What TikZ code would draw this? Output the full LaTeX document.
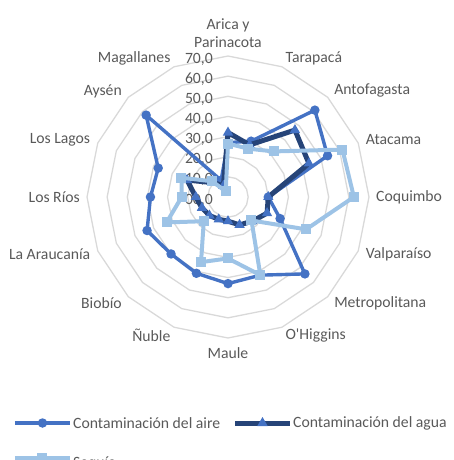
\documentclass[tikz,border=0pt]{standalone}
\usepackage{fontspec}
\setmainfont{Carlito}
\usepackage{xcolor}
\usetikzlibrary{shapes.geometric,positioning,calc}

\definecolor{aireblue}{HTML}{4472C4}
\definecolor{aguanavy}{HTML}{264478}
\definecolor{sequiablue}{HTML}{9DC3E6}
\definecolor{gridgray}{HTML}{D9D9D9}
\definecolor{txtgray}{HTML}{595959}

\begin{document}
\begin{tikzpicture}[
    x=1pt, y=1pt,
    font=\fontsize{15.7}{18}\selectfont, text=txtgray,
    ring/.style={draw=gridgray, line width=1.3pt},
    aireline/.style={draw=aireblue, line width=3.4pt, line join=round},
    agualine/.style={draw=aguanavy, line width=5pt, line join=round},
    sequialine/.style={draw=sequiablue, line width=4pt, line join=round},
    airemark/.style={circle, fill=aireblue, inner sep=0pt, minimum size=9.5pt},
    aguamark/.style={regular polygon, regular polygon sides=3, fill=aireblue, inner sep=0pt, minimum size=12pt},
    sequiamark/.style={rectangle, fill=sequiablue, inner sep=0pt, minimum size=10pt}
]
    \useasboundingbox (-228,-263) rectangle (225,197);
    \def\u{2.014}

    % Rings
    \foreach \k in {1,...,7}
        \draw[ring] (90:\k*10*\u) \foreach \i in {1,...,15}{ -- ({90-22.5*\i}:\k*10*\u) } -- cycle;

    % Scale labels
    \foreach \k in {0,...,7}
        \node[anchor=east, inner sep=0pt] (tick\k) at (-15,\k*10*\u-3) {\k0,0};

    % Region labels
    \node[anchor=south, align=center, inner sep=0pt] (r0) at (90:149) {Arica y\\Parinacota};
    \node[anchor=west, inner sep=0pt] (r1) at (67.5:150) {Tarapacá};
    \node[anchor=west, inner sep=0pt] (r2) at (45:150) {Antofagasta};
    \node[anchor=west, inner sep=0pt] (r3) at (22.5:149) {Atacama};
    \node[anchor=west, inner sep=0pt] (r4) at (0:148) {Coquimbo};
    \node[anchor=west, inner sep=0pt] (r5) at (-22.5:149) {Valparaíso};
    \node[anchor=west, inner sep=0pt] (r6) at (-45:150) {Metropolitana};
    \node[anchor=west, inner sep=0pt] (r7) at (-67.5:150) {O\textquotesingle Higgins};
    \node[anchor=north, inner sep=0pt] (r8) at (-90:150) {Maule};
    \node[anchor=east, inner sep=0pt] (r9) at (-112.5:150) {Ñuble};
    \node[anchor=east, inner sep=0pt] (r10) at (-135:150) {Biobío};
    \node[anchor=east, inner sep=0pt] (r11) at (-157.5:149) {La Araucanía};
    \node[anchor=east, inner sep=0pt] (r12) at (180:148) {Los Ríos};
    \node[anchor=east, inner sep=0pt] (r13) at (157.5:149) {Los Lagos};
    \node[anchor=east, inner sep=0pt] (r14) at (135:150) {Aysén};
    \node[anchor=east, inner sep=0pt] (r15) at (112.5:150) {Magallanes};

    % Data points
    \foreach \v [count=\i from 0] in {27,30,61,53.5,20,28,54,42,43,41,40,43.5,38.5,37.5,57.5,9}
        \coordinate (a\i) at ({90-22.5*\i}:\v*\u);
    \foreach \v [count=\i from 0] in {32,28,47,43.5,20,21,17,15,12,12,13,14,16,22,10,6}
        \coordinate (w\i) at ({90-22.5*\i}:\v*\u);
    \foreach \v [count=\i from 0] in {26.5,26,32,61.5,62.5,42,16.5,42,30.5,35,17,33,23,25,11,3}
        \coordinate (s\i) at ({90-22.5*\i}:\v*\u);

    % Contaminacion del aire
    \draw[aireline] (a0) \foreach \i in {1,...,15}{ -- (a\i) } -- cycle;
    \foreach \i in {0,...,15} \node[airemark] (ma\i) at (a\i) {};

    % Contaminacion del agua
    \draw[agualine] (w0) \foreach \i in {1,...,15}{ -- (w\i) } -- cycle;
    \foreach \i in {0,...,15} \node[aguamark] (mw\i) at (w\i) {};

    % Sequia
    \draw[sequialine] (s0) \foreach \i in {1,...,15}{ -- (s\i) } -- cycle;
    \foreach \i in {0,...,15} \node[sequiamark] (ms\i) at (s\i) {};

    % Legend
    \coordinate (la1) at (-213,-226);
    \coordinate (la2) at (-158,-226);
    \draw[aireline] (la1) -- (la2);
    \node[airemark] (lam) at ($(la1)!0.5!(la2)$) {};
    \node[anchor=west, inner sep=0pt] (lat) at (-155,-226) {Contaminación del aire};

    \coordinate (lw1) at (7,-226);
    \coordinate (lw2) at (62,-226);
    \draw[agualine] (lw1) -- (lw2);
    \node[aguamark] (lwm) at ($(lw1)!0.5!(lw2)$) {};
    \node[anchor=west, inner sep=0pt] (lwt) at (65,-226) {Contaminación del agua};

    \coordinate (ls1) at (-213,-261);
    \coordinate (ls2) at (-158,-261);
    \draw[sequialine] (ls1) -- (ls2);
    \node[sequiamark] (lsm) at ($(ls1)!0.5!(ls2)$) {};
    \node[anchor=west, inner sep=0pt] (lst) at (-155,-266) {Sequía};

\end{tikzpicture}
\end{document}
